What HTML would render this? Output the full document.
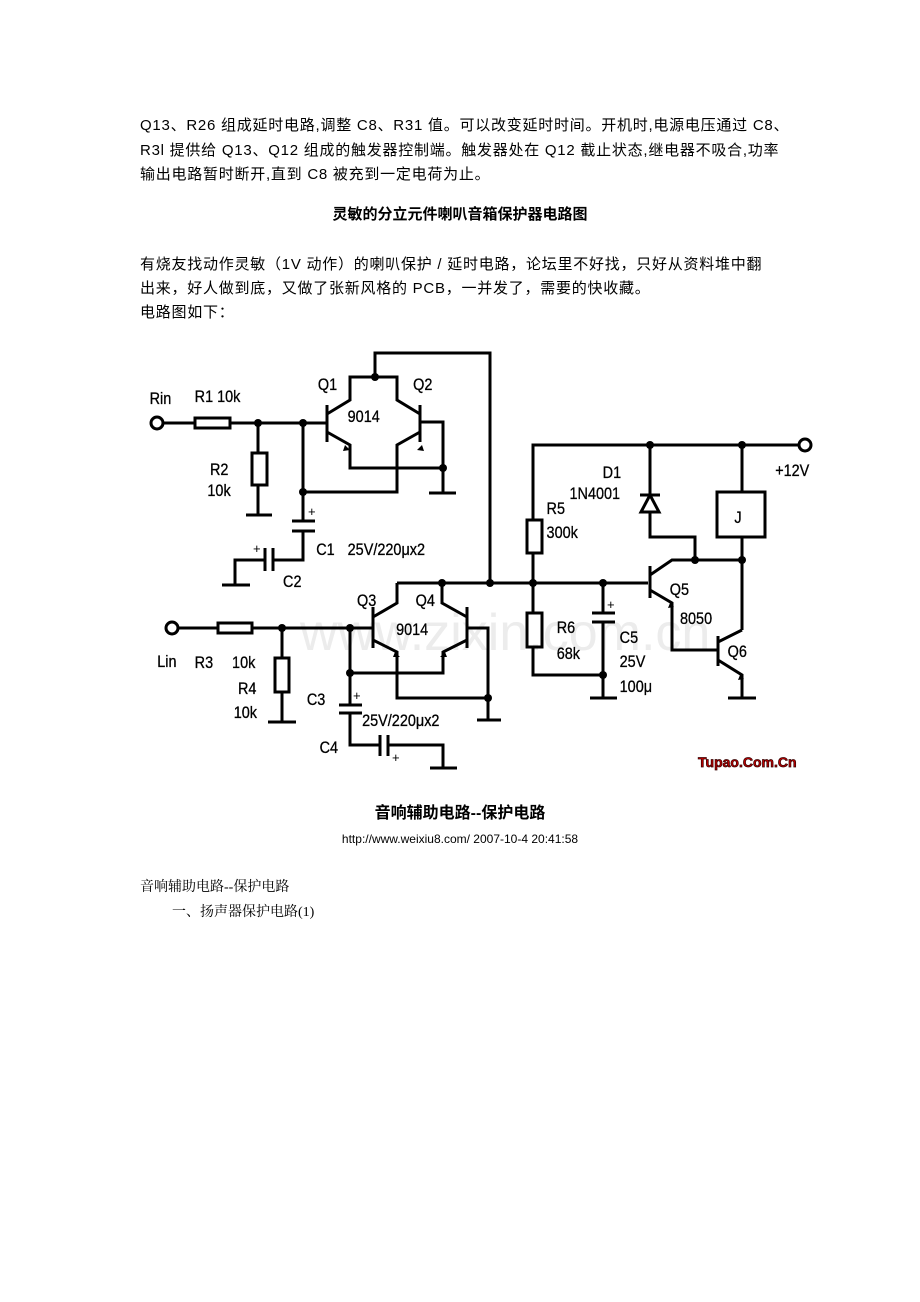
<!DOCTYPE html>
<html><head><meta charset="utf-8">
<style>
body{margin:0;background:#fff;width:920px;height:1302px;position:relative;overflow:hidden;font-family:"Liberation Sans","Noto Sans CJK SC",sans-serif;color:#000}
.t{position:absolute;white-space:nowrap;font-size:15px;line-height:18px}
.p{letter-spacing:0.75px}
.s{font-family:"Liberation Serif","Noto Serif CJK SC",serif}
</style></head><body>
<div class="t p" style="left:140px;top:117px">Q13、R26 组成延时电路,调整 C8、R31 值。可以改变延时时间。开机时,电源电压通过 C8、</div>
<div class="t p" style="left:140px;top:142px">R3l 提供给 Q13、Q12 组成的触发器控制端。触发器处在 Q12 截止状态,继电器不吸合,功率</div>
<div class="t p" style="left:140px;top:166px">输出电路暂时断开,直到 C8 被充到一定电荷为止。</div>
<div class="t" style="left:0;width:920px;text-align:center;top:206px;font-weight:bold">灵敏的分立元件喇叭音箱保护器电路图</div>
<div class="t p" style="left:140px;top:256px">有烧友找动作灵敏（1V 动作）的喇叭保护 / 延时电路，论坛里不好找，只好从资料堆中翻</div>
<div class="t p" style="left:140px;top:280px">出来，好人做到底，又做了张新风格的 PCB，一并发了，需要的快收藏。</div>
<div class="t p" style="left:140px;top:304px">电路图如下：</div>

<svg style="position:absolute;left:0;top:0" width="920" height="800" viewBox="0 0 920 800">
<text x="300" y="650" font-size="52" fill="#ececec" font-family="Liberation Sans,sans-serif">www.zixin.com.cn</text>
<g fill="none" stroke="#000" stroke-width="3">
<circle cx="157" cy="423" r="6"/>
<path d="M163 423H195M230 423H327"/>
<rect x="195" y="418" width="35" height="10"/>
<path d="M258 423V453M258 485V515M246 515H272"/>
<rect x="252" y="453" width="15" height="32"/>
<path d="M327 405V442"/>
<path d="M327 414L350 400V377H397V400L420 414"/>
<path d="M375 377V353H490V583"/>
<path d="M327 432L350 445V468H443M420 432L397 445V492H303"/>
<path d="M420 405V442M420 422H443V493M429 493H456"/>
<path d="M303 423V521M292 521H315M292 531H315M303 531V560H273M273 548V571M265 548V571M265 560H235V585M222 585H250"/>
<path d="M397 583H490"/>
<path d="M373 607V648M373 617L397 603V583M442 583V603L467 617M467 607V648"/>
<path d="M373 640L397 652V698H490M467 640L443 652V673H350M467 628H488V720M477 720H501"/>
<circle cx="172" cy="628" r="6"/>
<path d="M178 628H218M252 628H373"/>
<rect x="218" y="623" width="34" height="10"/>
<path d="M282 628V658M282 692V722M268 722H296"/>
<rect x="275" y="658" width="14" height="34"/>
<path d="M350 628V705M339 705H362M339 713H362M350 713V745H380M380 735V756M388 735V756M388 745H443V768M430 768H457"/>
<path d="M490 583H648"/>
<path d="M533 583V553M533 520V445H799"/>
<rect x="527" y="520" width="15" height="33"/>
<path d="M533 583V613M533 647V675H603M603 583V613M592 613H615M592 622H615M603 622V698M590 698H617"/>
<rect x="527" y="613" width="15" height="34"/>
<circle cx="805" cy="445" r="6"/>
<path d="M650 445V495M650 512V537H695V560M640 495H660M641 512L650 495L659 512Z"/>
<path d="M742 445V492M742 537V630"/>
<rect x="717" y="492" width="48" height="45"/>
<path d="M650 566V598M650 575L672 560H742M650 590L672 603V650H718M718 636V666M718 642L742 630M718 660L742 675V698M728 698H756"/>
</g>
<g fill="#000">
<circle cx="258" cy="423" r="4"/><circle cx="303" cy="423" r="4"/><circle cx="375" cy="377" r="4"/><circle cx="443" cy="468" r="4"/><circle cx="303" cy="492" r="4"/>
<circle cx="442" cy="583" r="4"/><circle cx="490" cy="583" r="4"/><circle cx="282" cy="628" r="4"/><circle cx="350" cy="628" r="4"/><circle cx="350" cy="673" r="4"/><circle cx="488" cy="698" r="4"/>
<circle cx="533" cy="583" r="4"/><circle cx="603" cy="583" r="4"/><circle cx="650" cy="445" r="4"/><circle cx="742" cy="445" r="4"/><circle cx="695" cy="560" r="4"/><circle cx="742" cy="560" r="4"/><circle cx="603" cy="675" r="4"/>
<path d="M345 445l5 5-7 1z M422 445l-5 5 7 1z M395 652l5 5-7 0z M445 652l-5 5 7 0z M670 603l4 4-6 1z M740 675l4 4-6 1z"/>
</g>
<g font-family="Liberation Sans,sans-serif" font-size="17" fill="#000" stroke="#000" stroke-width="0.3" transform="scale(0.85,1)">
<text x="176" y="404">Rin</text><text x="229" y="402">R1 10k</text>
<text x="374" y="390">Q1</text><text x="486" y="390">Q2</text><text x="409" y="422">9014</text>
<text x="247" y="475">R2</text><text x="244" y="496">10k</text>
<text x="372" y="555">C1</text><text x="409" y="555">25V/220μx2</text>
<text x="333" y="587">C2</text>
<text x="420" y="606">Q3</text><text x="489" y="606">Q4</text><text x="466" y="635">9014</text>
<text x="185" y="667">Lin</text><text x="229" y="668">R3</text><text x="273" y="668">10k</text>
<text x="280" y="694">R4</text><text x="275" y="718">10k</text>
<text x="361" y="705">C3</text><text x="426" y="726">25V/220μx2</text>
<text x="376" y="753">C4</text>
<text x="709" y="478">D1</text><text x="670" y="499">1N4001</text>
<text x="643" y="514">R5</text><text x="643" y="538">300k</text>
<text x="788" y="595">Q5</text><text x="800" y="624">8050</text><text x="856" y="657">Q6</text>
<text x="655" y="633">R6</text><text x="655" y="659">68k</text>
<text x="729" y="643">C5</text><text x="729" y="667">25V</text><text x="729" y="692">100μ</text>
<text x="912" y="476">+12V</text><text x="864" y="523">J</text>
</g>
<g font-family="Liberation Sans,sans-serif" font-size="13" fill="#000">
<text x="308" y="516">+</text><text x="353" y="700">+</text><text x="392" y="762">+</text><text x="253" y="553">+</text><text x="607" y="609">+</text>
</g>
<text x="698" y="767" font-family="Liberation Sans,sans-serif" font-size="14" font-weight="bold" fill="#b00" stroke="#300" stroke-width="0.7">Tupao.Com.Cn</text>
</svg>

<div class="t" style="left:0;width:920px;text-align:center;top:805px;font-size:16px;font-weight:bold">音响辅助电路--保护电路</div>
<div class="t" style="left:0;width:920px;text-align:center;top:830px;font-size:12px">http://www.weixiu8.com/ 2007-10-4 20:41:58</div>
<div class="t s" style="left:140px;top:879px;font-size:14px">音响辅助电路--保护电路</div>
<div class="t s" style="left:172px;top:904px;font-size:14px">一、扬声器保护电路(1)</div>
</body></html>
